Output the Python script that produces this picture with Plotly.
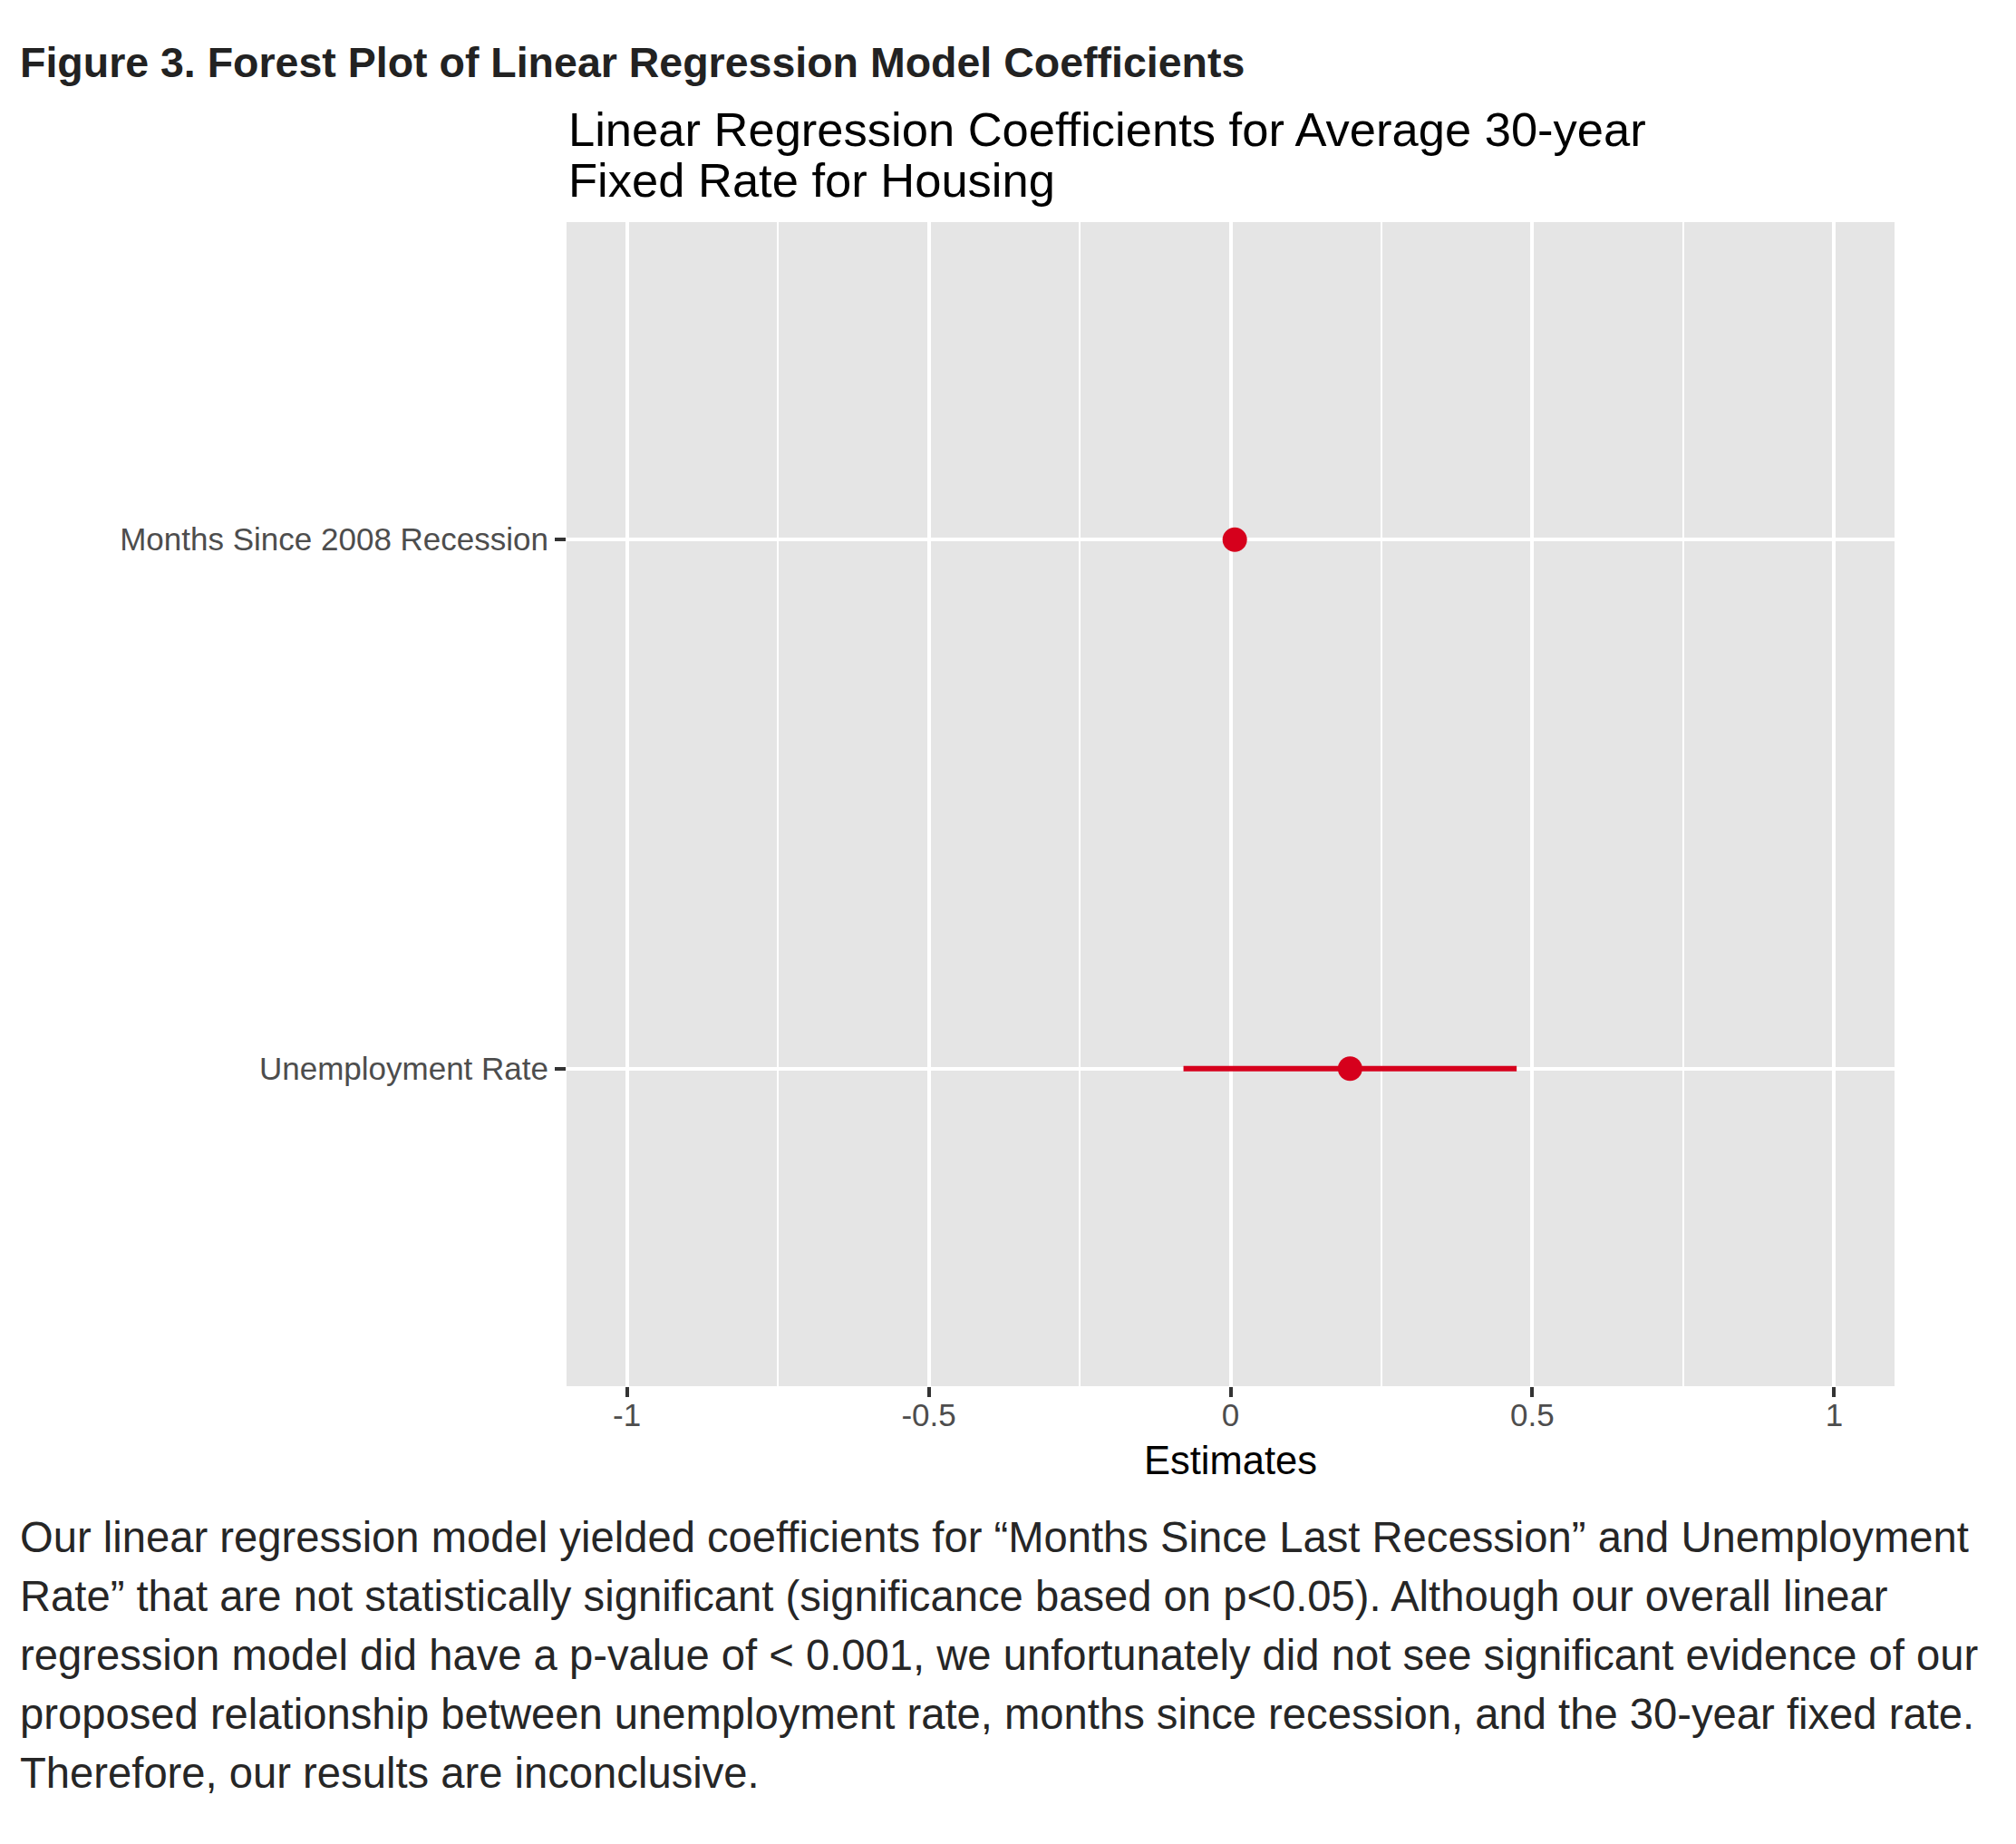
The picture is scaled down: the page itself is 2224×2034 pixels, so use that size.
import plotly.graph_objects as go

# coefficient estimates and their confidence bounds
terms = ["Unemployment Rate", "Months Since 2008 Recession"]
estimates = [0.198, 0.007]
ci_lower = [-0.078, 0.004]
ci_upper = [0.474, 0.010]

x_ticks = [-1, -0.5, 0, 0.5, 1]
x_tick_labels = ["-1", "-0.5", "0", "0.5", "1"]

fig_title = "Figure 3. Forest Plot of Linear Regression Model Coefficients"
plot_title = ["Linear Regression Coefficients for Average 30-year",
              "Fixed Rate for Housing"]
x_title = "Estimates"
caption = [
    "Our linear regression model yielded coefficients for \u201cMonths Since Last Recession\u201d and Unemployment",
    "Rate\u201d that are not statistically significant (significance based on p<0.05). Although our overall linear",
    "regression model did have a p-value of < 0.001, we unfortunately did not see significant evidence of our",
    "proposed relationship between unemployment rate, months since recession, and the 30-year fixed rate.",
    "Therefore, our results are inconclusive.",
]

FONT = "Liberation Sans, Arial, Helvetica, sans-serif"
RED = "#D6001C"

# the page body has an 8px margin, so the figure sits 8px in from the window corner
OFF = 8
W, H = 2224 - 2 * OFF, 2010
panel_left, panel_right, panel_top, panel_bottom = 625, 2090, 245, 1529  # window px
L = panel_left - OFF
R = W - (panel_right - OFF)
T = panel_top - OFF
B = H - (panel_bottom - OFF)
PW = W - L - R
PH = H - T - B


def paper_x(x_px):
    return (x_px - OFF - L) / PW


def paper_y(y_px):
    return (H - B - (y_px - OFF)) / PH


fig = go.Figure()

err_plus = [u - e for u, e in zip(ci_upper, estimates)]
err_minus = [e - l for e, l in zip(estimates, ci_lower)]

fig.add_trace(go.Scatter(
    x=estimates,
    y=terms,
    mode="markers",
    marker=dict(size=27, color=RED, line=dict(width=0)),
    error_x=dict(type="data", symmetric=False, array=err_plus, arrayminus=err_minus,
                 color=RED, thickness=6, width=0),
    showlegend=False,
))


def add_text(text, x_px, baseline_px, size, color, bold=False, xanchor="left"):
    # put the top of the text box so the baseline lands near baseline_px
    top = baseline_px - 0.905 * size + 4
    fig.add_annotation(
        text=f"<b>{text}</b>" if bold else text,
        xref="paper", yref="paper",
        x=paper_x(x_px), y=paper_y(top),
        xanchor=xanchor, yanchor="top",
        showarrow=False,
        font=dict(family=FONT, size=size, color=color),
    )


add_text(fig_title, 20, 79, 46.5, "#222222", bold=True)
add_text(plot_title[0], 625, 155, 52.5, "#000000")
add_text(plot_title[1], 625, 211, 52.5, "#000000")
add_text(x_title, (panel_left + panel_right) / 2, 1620, 43.5, "#000000", xanchor="center")

for i, line in enumerate(caption):
    add_text(line, 20, 1706 + 65 * i, 47.2, "#262626")

fig.update_xaxes(
    range=[-1.1, 1.1],
    tickvals=x_ticks,
    ticktext=x_tick_labels,
    ticks="outside", ticklen=11, tickwidth=4, tickcolor="#333333",
    ticklabelstandoff=-10,
    tickfont=dict(family=FONT, size=35, color="#4D4D4D"),
    showgrid=True, gridcolor="white", gridwidth=4,
    minor=dict(dtick=0.25, tick0=0, showgrid=True, gridcolor="white", gridwidth=2),
    zeroline=False, showline=False,
)
fig.update_yaxes(
    type="category",
    categoryorder="array", categoryarray=terms,
    range=[-0.6, 1.6],
    ticks="outside", ticklen=12, tickwidth=4, tickcolor="#333333",
    tickfont=dict(family=FONT, size=35, color="#4D4D4D"),
    showgrid=True, gridcolor="white", gridwidth=4,
    zeroline=False, showline=False,
)

fig.update_layout(
    width=W, height=H,
    margin=dict(l=L, r=R, t=T, b=B),
    plot_bgcolor="#E5E5E5",
    paper_bgcolor="white",
    font=dict(family=FONT),
)

fig.write_html("out.html")
